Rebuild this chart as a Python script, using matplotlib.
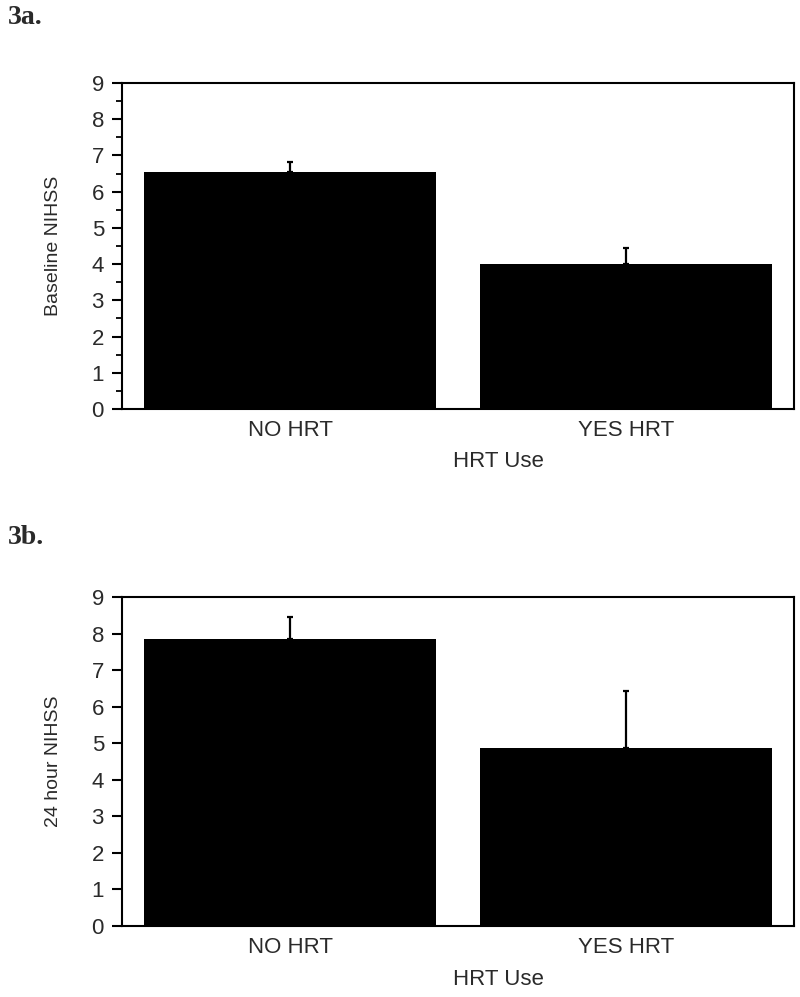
import numpy as np
import matplotlib
matplotlib.use('Agg')
from matplotlib import pyplot as plt
from matplotlib.ticker import MultipleLocator

# data
groups = ['NO HRT', 'YES HRT']
baseline_mean = [6.55, 4.0]
baseline_err = [0.27, 0.45]
hour24_mean = [7.85, 4.86]
hour24_err = [0.6, 1.57]

plt.rcParams['font.family'] = ['Liberation Sans', 'DejaVu Sans']
text_col = '#2a2a2a'


def bar_panel(ax, means, errs, ylabel, minor):
    x = np.arange(len(groups))
    ax.bar(x, means, width=0.87, color='black', zorder=2)
    lower = np.zeros(len(errs))
    ax.errorbar(x, means, yerr=[lower, errs], fmt='none', ecolor='black',
                elinewidth=1.6, capsize=2.5, capthick=1.6, zorder=3)
    ax.set_xlim(-0.5, 1.5)
    ax.set_ylim(0, 9)
    ax.set_xticks(x)
    ax.set_xticklabels(groups, fontsize=16, color=text_col)
    ax.set_yticks(range(10))
    ax.tick_params(axis='y', labelsize=16, labelcolor=text_col, length=7,
                   width=1.5, direction='out', pad=6)
    ax.tick_params(axis='x', length=0, pad=8)
    if minor:
        ax.yaxis.set_minor_locator(MultipleLocator(0.5))
        ax.tick_params(axis='y', which='minor', length=4, width=1.3)
    for s in ax.spines.values():
        s.set_linewidth(1.5)
    ax.set_xlabel('HRT Use', fontsize=16, color=text_col)
    ax.xaxis.set_label_coords(0.56, -0.13)
    ax.set_ylabel(ylabel, fontsize=14, color=text_col)
    ax.yaxis.set_label_coords(-0.09, 0.5)


fig = plt.figure(figsize=(8, 9.97), dpi=100)

ax1 = fig.add_axes([0.1525, 0.5898, 0.84, 0.327])
bar_panel(ax1, baseline_mean, baseline_err, 'Baseline NIHSS', True)

ax2 = fig.add_axes([0.1525, 0.0712, 0.84, 0.330])
bar_panel(ax2, hour24_mean, hour24_err, '24 hour NIHSS', False)

fig.text(0.01, 0.982, '3a.', fontsize=20, fontweight='bold',
         family='Liberation Serif', color=text_col, va='center')
fig.text(0.01, 0.461, '3b.', fontsize=20, fontweight='bold',
         family='Liberation Serif', color=text_col, va='center')

plt.savefig('out.png', dpi=100)
